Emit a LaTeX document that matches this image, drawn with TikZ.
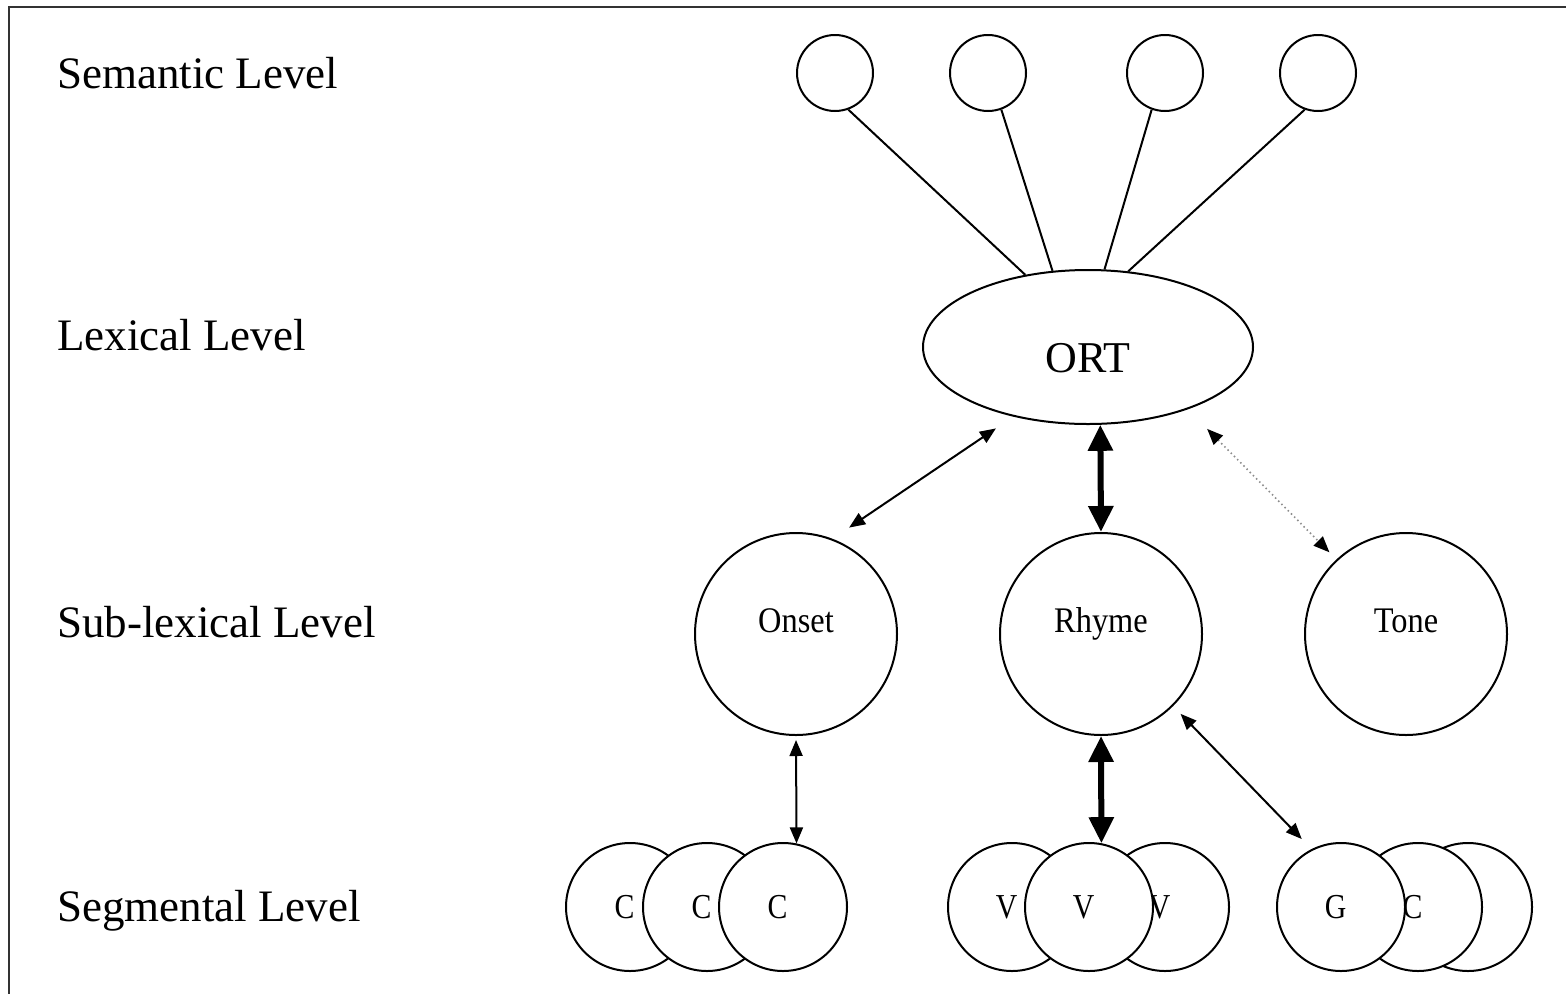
\documentclass[tikz,border=0pt]{standalone}
\usepackage{fontspec}
\setmainfont{Liberation Serif}
\usetikzlibrary{arrows.meta,shapes.geometric}
\newcommand{\condtxt}[2]{\scalebox{#1}[1]{#2}}
\begin{document}
\begin{tikzpicture}[x=1pt,y=-1pt,
  frame/.style={line width=2.6pt, draw=black!80},
  lev/.style={anchor=base west, inner sep=0pt, font=\fontsize{45}{54}\selectfont},
  semc/.style={circle, draw, line width=2pt, minimum size=76pt, inner sep=0pt},
  semline/.style={line width=2pt},
  subc/.style={circle, draw, fill=white, line width=2pt, minimum size=202pt, inner sep=0pt},
  sublab/.style={inner sep=0pt, anchor=base, font=\fontsize{36}{40}\selectfont},
  segc/.style={circle, draw, fill=white, line width=2pt, minimum size=128pt, inner sep=0pt},
  seglab/.style={inner sep=0pt, xshift=-5.5pt, font=\fontsize{35}{40}\selectfont},
  ortlab/.style={inner sep=0pt, yshift=-11pt, font=\fontsize{44}{50}\selectfont},
  thintip/.tip={Triangle[length=16pt,width=13pt]},
  thicktip/.tip={Triangle[length=26pt,width=24pt]},
  thinarr/.style={line width=2pt, thintip-thintip},
  thickarr/.style={line width=6pt, thicktip-thicktip},
  dotarr/.style={draw=black!45, line width=1.6pt, dash pattern=on 1.5pt off 3pt,
    {Triangle[length=16pt,width=13pt,color=black]}-{Triangle[length=16pt,width=13pt,color=black]}}
]
\useasboundingbox (0,0) rectangle (1566,994);
\draw[frame] (1566,7) -- (9,7) -- (9,994);

% level labels
\node[lev] (lsem) at (57,88) {Semantic Level};
\node[lev] (llex) at (57,350) {Lexical Level};
\node[lev] (lsub) at (57,637) {Sub-lexical Level};
\node[lev] (lseg) at (57,921) {Segmental Level};

% semantic level
\node[semc] (s1) at (835,73) {};
\node[semc] (s2) at (988,73) {};
\node[semc] (s3) at (1165,73) {};
\node[semc] (s4) at (1318,73) {};

% lexical level
\node[ellipse, draw, line width=2pt, minimum width=330pt, minimum height=154pt, inner sep=0pt,
      label={[ortlab]center:ORT}] (ort) at (1088,347) {};

% sub-lexical level
\node[subc] (onset) at (796,634) {};
\node[subc] (rhyme) at (1101,634) {};
\node[subc] (tone) at (1406,634) {};
\node[sublab] (onsetlab) at (796,632) {\condtxt{0.9}{Onset}};
\node[sublab] (rhymelab) at (1101,632) {\condtxt{0.9}{Rhyme}};
\node[sublab] (tonelab) at (1406,632) {\condtxt{0.9}{Tone}};

% segmental level
\node[segc, label={[seglab]center:\condtxt{0.85}{C}}] (c1) at (630,907) {};
\node[segc, label={[seglab]center:\condtxt{0.85}{C}}] (c2) at (707,907) {};
\node[segc, label={[seglab]center:\condtxt{0.85}{C}}] (c3) at (783,907) {};

\node[segc, label={[seglab]center:\condtxt{0.85}{V}}] (v1) at (1012,907) {};
\node[segc, label={[seglab]center:\condtxt{0.85}{V}}] (v3) at (1165,907) {};
\node[segc, label={[seglab]center:\condtxt{0.85}{V}}] (v2) at (1089,907) {};

\node[segc] (g3) at (1468,907) {};
\node[segc, label={[seglab]center:\condtxt{0.85}{C}}] (g2) at (1418,907) {};
\node[segc, label={[seglab]center:\condtxt{0.85}{G}}] (g1) at (1341,907) {};

% semantic links
\draw[semline] (s1.290) -- (ort.131.6);
\draw[semline] (s2.290) -- (ort.115.6);
\draw[semline] (s3.250) -- (ort.78.9);
\draw[semline] (s4.250) -- (ort.62.5);

% connections
\draw[thinarr, shorten <=20pt, shorten >=21pt] (onset.69.7) -- (ort.223.7);
\draw[thickarr] (ort.279.6) -- (rhyme.north);
\draw[dotarr, shorten <=27.5pt, shorten >=10pt] (ort.328.4) -- (tone.133);
\draw[thinarr, shorten <=4pt] (onset.south) -- (c3.78.5);
\draw[thickarr] (rhyme.south) -- (v2.79.2);
\draw[thinarr, shorten <=10.7pt, shorten >=14pt] (rhyme.315.1) -- (g1.117.2);
\end{tikzpicture}
\end{document}
